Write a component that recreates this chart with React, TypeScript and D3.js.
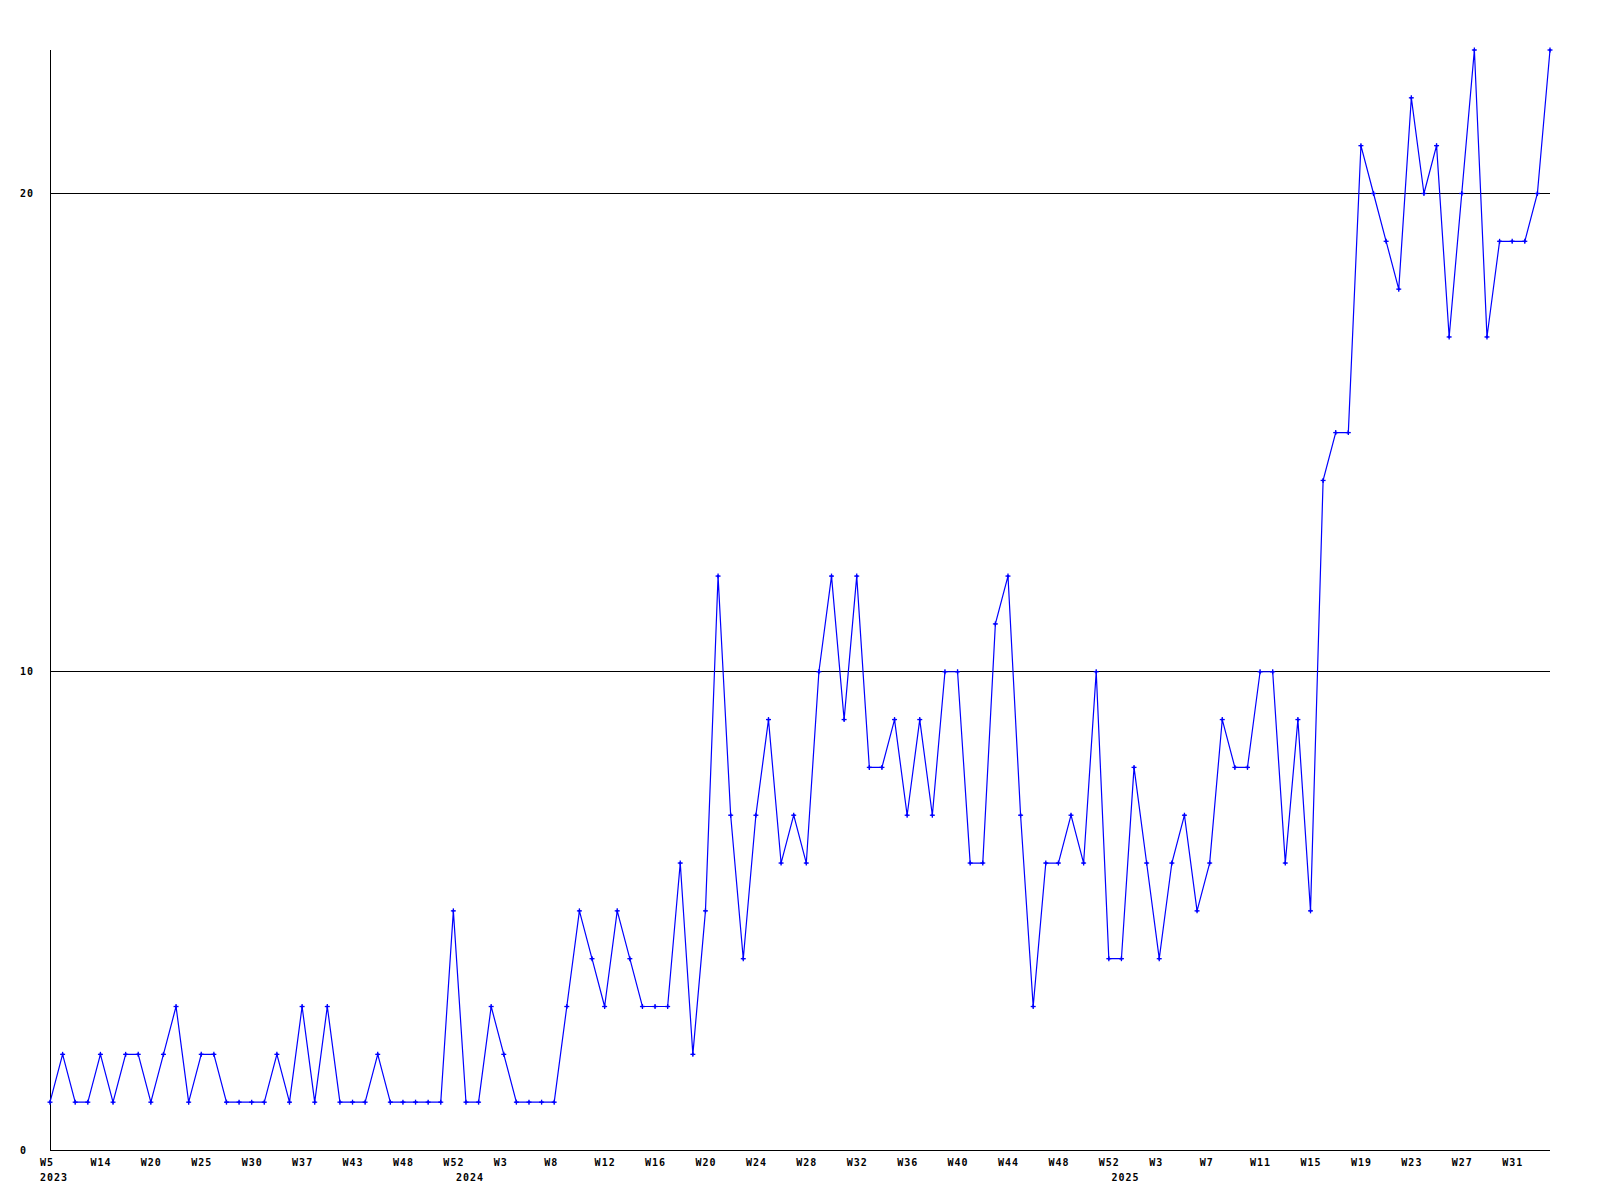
import React from "react";
import * as d3 from "d3";

const values: number[] = [
  1, 2, 1, 1, 2, 1, 2, 2, 1, 2,
  3, 1, 2, 2, 1, 1, 1, 1, 2, 1,
  3, 1, 3, 1, 1, 1, 2, 1, 1, 1,
  1, 1, 5, 1, 1, 3, 2, 1, 1, 1,
  1, 3, 5, 4, 3, 5, 4, 3, 3, 3,
  6, 2, 5, 12, 7, 4, 7, 9, 6, 7,
  6, 10, 12, 9, 12, 8, 8, 9, 7, 9,
  7, 10, 10, 6, 6, 11, 12, 7, 3, 6,
  6, 7, 6, 10, 4, 4, 8, 6, 4, 6,
  7, 5, 6, 9, 8, 8, 10, 10, 6, 9,
  5, 14, 15, 15, 21, 20, 19, 18, 22, 20,
  21, 17, 20, 23, 17, 19, 19, 19, 20, 23,
];

const weekTickLabels: string[] = [
  "W5", "W14", "W20", "W25", "W30", "W37", "W43", "W48", "W52",
  "W3", "W8", "W12", "W16", "W20", "W24", "W28", "W32", "W36", "W40", "W44", "W48", "W52",
  "W3", "W7", "W11", "W15", "W19", "W23", "W27", "W31",
];
const weekTickStep = 4;

const yearLabels: string[] = ["2023", "2024", "2025"];
const yearIndices: number[] = [0, 33, 85];

const yTicks: number[] = [0, 10, 20];
const yMax = 23;

const W = 1600;
const H = 1200;
const left = 50;
const right = 1550;
const top = 50;
const bottom = 1150;

const fontStyle = {
  fontFamily: "'DejaVu Sans Mono', monospace",
  fontWeight: 700 as const,
  fontSize: 10,
  letterSpacing: 1,
};

export default function App() {
  const x = d3.scaleLinear().domain([0, values.length - 1]).range([left, right]);
  const y = d3.scaleLinear().domain([0, yMax]).range([bottom, top]);
  const line = d3
    .line<number>()
    .x((_, i) => x(i))
    .y((d) => y(d));
  const px = (v: number) => Math.floor(v) + 0.5;

  return (
    <svg
      width={W}
      height={H}
      style={{ position: "absolute", left: 0, top: 0, background: "#fff" }}
    >
      <rect x={0} y={0} width={W} height={H} fill="#fff" />
      {yTicks
        .filter((t) => t > 0)
        .map((t) => (
          <line
            key={"g" + t}
            x1={left}
            x2={right}
            y1={px(y(t))}
            y2={px(y(t))}
            stroke="#000"
            strokeWidth={1}
            shapeRendering="crispEdges"
          />
        ))}
      <line x1={px(left)} x2={px(left)} y1={top} y2={px(bottom)} stroke="#000" strokeWidth={1} shapeRendering="crispEdges" />
      <line x1={left} x2={right} y1={px(bottom)} y2={px(bottom)} stroke="#000" strokeWidth={1} shapeRendering="crispEdges" />
      {yTicks.map((t) => (
        <text key={"yl" + t} x={20} y={Math.floor(y(t)) + 4} style={fontStyle} fill="#000">
          {t}
        </text>
      ))}
      {weekTickLabels.map((lab, k) => (
        <text key={"xl" + k} x={x(k * weekTickStep) - 10} y={1166} style={fontStyle} fill="#000">
          {lab}
        </text>
      ))}
      {yearLabels.map((lab, k) => (
        <text key={"yr" + k} x={x(yearIndices[k]) - 10} y={1181} style={fontStyle} fill="#000">
          {lab}
        </text>
      ))}
      <path d={line(values) || ""} fill="none" stroke="#0000ff" strokeWidth={1.2} />
      {values.map((v, i) => {
        const cx = x(i);
        const cy = y(v);
        return (
          <g key={"m" + i}>
            <line x1={cx - 2.5} x2={cx + 2.5} y1={cy} y2={cy} stroke="#0000ff" strokeWidth={1.3} />
            <line x1={cx} x2={cx} y1={cy - 2.5} y2={cy + 2.5} stroke="#0000ff" strokeWidth={1.3} />
            <path
              d={`M${cx - 1.6},${cy} L${cx},${cy - 1.6} L${cx + 1.6},${cy} L${cx},${cy + 1.6} Z`}
              fill="#0000ff"
            />
          </g>
        );
      })}
    </svg>
  );
}
